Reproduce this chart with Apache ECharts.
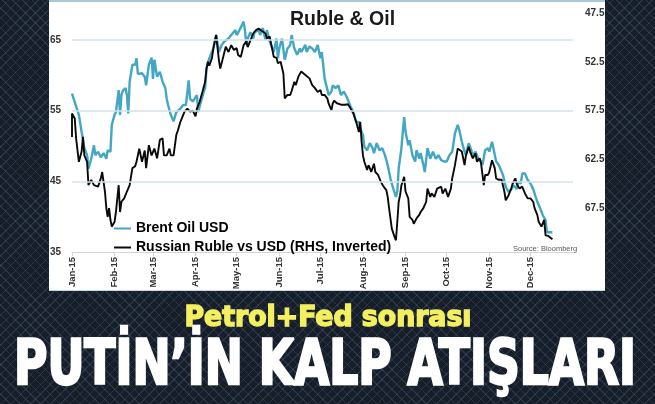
<!DOCTYPE html>
<html>
<head>
<meta charset="utf-8">
<script src="https://cdn.jsdelivr.net/npm/echarts@6/dist/echarts.min.js"></script>
<style>
  html, body { margin: 0; padding: 0; }
  body {
    width: 655px; height: 404px; overflow: hidden; position: relative;
    background-color: #161e2a;
    background-image:
      repeating-linear-gradient(45deg, rgba(120,140,170,0.2) 0 1px, transparent 1px 7px),
      repeating-linear-gradient(-45deg, rgba(120,140,170,0.2) 0 1px, transparent 1px 7px);
  }
  #panel {
    position: absolute; left: 49px; top: 0; width: 556px; height: 288px;
    background: #ffffff; border-top: 2px solid #a9c9d8; border-bottom: 1px solid #c4d8e2;
  }
  #chart { position: absolute; left: 0; top: 0; width: 655px; height: 404px; }
</style>
</head>
<body>
<div id="panel"></div>
<div id="chart"></div>
<script>
// ---- data (day = days since 1 Jan 2015) ----
const monthLabels = ['Jan','Feb','Mar','Apr','May','Jun','Jul','Aug','Sep','Oct','Nov','Dec'];
const yearSuffix = '-15';
const leftTicks = [35, 45, 55, 65];
const rightTicks = [47.5, 52.5, 57.5, 62.5, 67.5];

const brentDay = [0,5,7,9,11,12,14,16,17,19,21,23,25,26,28,29,31,32,34,35,36,37,39,40,41,42,44,46,47,48,51,53,54,56,58,59,60,62,64,66,68,69,70,72,74,76,79,81,83,85,86,88,91,92,93,96,97,98,100,103,105,107,109,111,114,116,119,120,122,125,126,127,128,130,132,133,136,137,139,141,142,144,147,149,150,151,153,155,157,159,160,162,164,166,167,170,171,173,175,177,179,181,182,183,184,187,189,190,192,194,196,198,200,201,203,205,207,209,210,212,213,215,217,219,220,222,224,226,228,230,232,234,236,237,238,240,241,242,243,245,246,248,250,251,253,254,256,257,259,261,263,265,267,269,271,273,275,277,279,281,282,284,286,287,289,290,292,294,296,298,299,301,303,304,306,307,309,311,312,314,316,318,320,322,324,325,327,328,330,332,334,336,337,339,341,343,345,346,348,350];
const brentUsd = [57.4,54.4,52.0,49.7,48.7,46.8,48.2,50.1,48.7,49.2,48.4,49.0,48.2,49.4,49.2,53.0,54.4,54.8,57.9,54.4,57.2,57.8,58.2,57.2,54.6,59.1,61.5,61.5,62.4,60.2,60.3,59.8,58.6,61.5,62.5,59.5,62.2,59.8,60.5,59.1,58.2,56.7,55.8,54.4,53.5,54.8,55.3,55.8,55.8,59.3,56.7,56.3,57.2,54.8,55.6,57.7,58.2,61.0,62.4,63.8,65.7,63.3,64.3,64.8,65.2,65.7,66.4,65.7,66.4,67.6,66.4,64.3,65.2,66.1,65.2,66.1,66.4,65.7,66.7,65.0,66.4,64.8,63.3,65.2,62.4,63.8,65.2,62.2,63.8,64.3,65.7,63.8,62.9,63.8,63.3,64.3,63.3,64.1,63.8,63.3,64.3,62.4,63.3,61.5,59.6,57.2,57.7,58.6,58.2,58.6,57.2,57.7,57.0,57.2,55.6,54.8,53.4,53.4,52.5,51.5,49.9,49.4,50.4,49.7,49.0,50.4,49.4,49.7,48.7,47.3,45.4,44.0,42.8,43.6,46.8,49.7,52.0,54.1,52.0,50.1,50.8,48.7,47.8,49.4,48.2,49.0,47.3,46.3,49.7,48.2,49.2,48.2,48.7,48.0,47.8,47.8,48.7,49.2,51.8,53.0,52.4,50.6,49.2,48.7,50.4,49.9,48.7,49.2,48.2,47.8,47.3,49.4,49.7,49.2,50.6,49.7,47.8,47.3,47.3,45.9,44.2,43.5,43.9,44.4,43.9,44.9,44.7,46.1,46.1,45.2,44.7,43.9,43.7,42.1,41.2,40.2,39.5,37.8,37.8,37.8];

const rubleDay = [0,0,2,3,5,7,8,9,11,12,14,16,17,19,21,22,24,25,26,27,28,29,31,32,34,35,36,38,40,42,44,46,47,49,51,53,54,56,58,60,62,64,66,67,69,71,72,74,76,77,79,80,82,84,86,88,90,91,93,95,97,98,99,100,102,103,105,107,108,110,112,114,116,118,120,121,123,125,127,128,130,132,134,136,137,139,141,142,144,145,147,149,150,152,154,155,157,159,160,162,163,165,167,168,170,171,173,175,177,179,181,182,184,186,187,189,190,191,193,194,196,199,201,203,205,207,209,210,211,212,213,215,216,217,218,220,221,222,223,225,227,229,230,231,232,233,235,236,237,238,239,240,242,243,245,246,248,249,251,253,254,256,258,259,261,262,264,266,267,269,270,271,272,274,276,277,279,281,282,284,286,287,289,290,292,294,295,297,298,300,301,303,304,306,308,309,311,313,315,316,318,320,321,323,324,326,328,330,332,334,336,337,339,340,342,344,345,347,348,350];
const rubleRate = [60.2,57.8,58.3,60.35,62.75,61.7,60.2,62.1,62.75,65.15,64.6,65.15,65.0,65.3,64.45,63.8,65.8,67.5,68.4,67.5,68.7,69.4,68.9,67.9,65.15,67.9,66.85,66.5,65.8,65.15,63.4,63.2,62.75,61.4,62.75,61.6,63.4,61.05,62.1,61.4,62.4,60.5,60.35,62.1,62.1,61.4,62.1,62.1,60.0,59.6,58.65,58.3,57.6,57.3,57.6,57.5,58.1,57.3,56.6,55.6,54.55,53.2,52.5,52.9,52.1,51.1,49.75,52.3,53.2,52.1,50.95,51.5,50.8,51.3,51.1,51.8,52.0,50.8,50.4,51.0,50.3,49.6,49.25,49.1,48.9,49.4,49.6,50.1,49.9,50.1,52.0,52.1,52.65,52.5,53.7,56.25,55.9,55.9,55.5,54.55,54.9,54.0,53.5,53.35,53.85,53.7,54.2,54.9,55.2,55.6,55.4,55.9,55.9,56.25,56.8,57.45,56.75,56.5,56.75,56.6,56.9,56.9,56.85,57.3,57.8,58.65,59.7,58.65,60.7,62.1,62.75,63.6,63.1,63.4,63.8,62.95,63.8,63.6,64.1,64.8,65.3,65.65,66.35,67.5,68.55,69.6,70.45,70.8,68.9,66.85,66.2,65.15,64.3,65.8,66.5,68.4,68.7,69.1,68.55,68.2,67.9,67.5,66.85,65.5,66.35,66.0,66.35,65.5,65.65,65.3,66.0,66.2,65.5,66.35,65.5,64.45,63.1,61.4,61.6,61.7,63.1,62.1,61.2,61.7,62.4,61.9,62.75,62.4,62.9,65.15,64.1,64.1,63.8,62.6,63.4,64.45,64.6,64.6,65.8,66.7,66.2,65.5,65.0,64.45,65.0,65.5,65.3,66.0,66.5,66.5,66.85,67.5,68.2,68.9,69.4,68.7,70.3,70.35,70.45,70.7];

const seriesNames = ['Brent Oil USD', 'Russian Ruble vs USD (RHS, Inverted)'];
const chartTitle = 'Ruble & Oil';
const sourceNote = 'Source: Bloomberg';
const headline1 = 'Petrol+Fed sonrası';
const headline2 = 'PUTİN\u2019İN KALP ATIŞLARI';

// ---- helpers ----
const dayToTime = d => new Date(2015, 0, 1 + d).getTime();
const toPairs = (days, vals) => days.map((d, i) => [dayToTime(d), vals[i]]);
const near = (a, b) => Math.abs(a - b) < 1e-6;

function measure(text, font) {
  const c = document.createElement('canvas').getContext('2d');
  c.font = font;
  return c.measureText(text).width;
}
const font1 = 'bold 28px "DejaVu Sans Condensed"';
const font2 = 'bold 62px "DejaVu Sans Condensed"';
const sx1 = 287 / measure(headline1, font1);
const sx2 = 622 / measure(headline2, font2);

const chart = echarts.init(document.getElementById('chart'), null, { renderer: 'canvas' });
const labelFont = '"Liberation Sans", Arial, sans-serif';

chart.setOption({
  animation: false,
  backgroundColor: 'transparent',
  title: {
    text: chartTitle, left: 290, top: 10, padding: 0,
    textStyle: { fontFamily: labelFont, fontWeight: 'bold', fontSize: 19.5, color: '#1a1a1a' }
  },
  legend: {
    orient: 'vertical', left: 114, top: 221, padding: 0,
    itemWidth: 17, itemHeight: 2, itemGap: 4, icon: 'rect',
    textStyle: { fontFamily: labelFont, fontWeight: 'bold', fontSize: 14, lineHeight: 15, color: '#000' },
    data: seriesNames
  },
  grid: { left: 72, right: 82, top: 13, bottom: 152 },
  xAxis: {
    type: 'time',
    min: dayToTime(0), max: dayToTime(365),
    splitNumber: 12,
    minInterval: 28 * 86400000, maxInterval: 31 * 86400000,
    axisLine: { show: true, lineStyle: { color: '#d4d4d4', width: 1 } },
    axisTick: { show: true, length: 4, lineStyle: { color: '#d4d4d4' } },
    splitLine: { show: false },
    axisLabel: {
      rotate: 90, margin: 5, interval: 0, hideOverlap: false,
      fontFamily: labelFont, fontWeight: 'bold', fontSize: 9.5, color: '#333',
      formatter: function (v) {
        const d = new Date(v);
        if (d.getFullYear() !== 2015 || d.getDate() !== 1) return '';
        return monthLabels[d.getMonth()] + yearSuffix;
      }
    }
  },
  yAxis: [
    {
      type: 'value', position: 'left', min: 35, max: 68.82, interval: 5,
      axisLine: { show: false }, axisTick: { show: false }, splitLine: { show: false },
      axisLabel: {
        margin: 11, fontFamily: labelFont, fontWeight: 'bold', fontSize: 10, color: '#333',
        showMaxLabel: false,
        formatter: v => leftTicks.some(t => near(t, v)) ? String(v) : ''
      }
    },
    {
      type: 'value', position: 'right', inverse: true, min: 47.5, max: 72, interval: 2.5,
      axisLine: { show: false }, axisTick: { show: false }, splitLine: { show: false },
      axisLabel: {
        margin: 12, fontFamily: labelFont, fontWeight: 'bold', fontSize: 10, color: '#333',
        showMaxLabel: false,
        formatter: v => rightTicks.some(t => near(t, v)) ? v.toFixed(1) : ''
      }
    }
  ],
  series: [
    {
      name: 'grid', type: 'line', yAxisIndex: 0, data: [], z: 1, silent: true,
      markLine: {
        silent: true, symbol: 'none', label: { show: false },
        lineStyle: { color: '#d2e2ea', width: 1.5, type: 'solid' },
        data: leftTicks.slice(1).map(t => ({ yAxis: t }))
      }
    },
    {
      name: seriesNames[0], type: 'line', yAxisIndex: 0, showSymbol: false, z: 3,
      color: '#43a7c4', lineStyle: { width: 2.4, color: '#43a7c4' },
      data: toPairs(brentDay, brentUsd)
    },
    {
      name: seriesNames[1], type: 'line', yAxisIndex: 1, showSymbol: false, z: 4,
      color: '#0a0a0a', lineStyle: { width: 1.9, color: '#0a0a0a' },
      data: toPairs(rubleDay, rubleRate)
    }
  ],
  graphic: [
    {
      type: 'text', x: 513, y: 249,
      style: { text: sourceNote, font: '7.5px "Liberation Sans"', fill: '#5a5a5a', verticalAlign: 'middle' }
    },
    {
      type: 'text', x: 328, y: 319, scaleX: sx1,
      style: {
        text: headline1, font: font1, fill: '#f3ef60', align: 'center', verticalAlign: 'middle',
        stroke: '#f3ef60', lineWidth: 1.4,
        shadowBlur: 3, shadowColor: 'rgba(0,0,0,0.8)', shadowOffsetX: 1, shadowOffsetY: 2
      }
    },
    {
      type: 'text', x: 325, y: 368, scaleX: sx2,
      style: {
        text: headline2, font: font2, fill: '#ffffff', align: 'center', verticalAlign: 'middle',
        stroke: '#ffffff', lineWidth: 2.5,
        shadowBlur: 4, shadowColor: 'rgba(0,0,0,0.85)', shadowOffsetX: 2, shadowOffsetY: 3
      }
    }
  ]
});
</script>
</body>
</html>
